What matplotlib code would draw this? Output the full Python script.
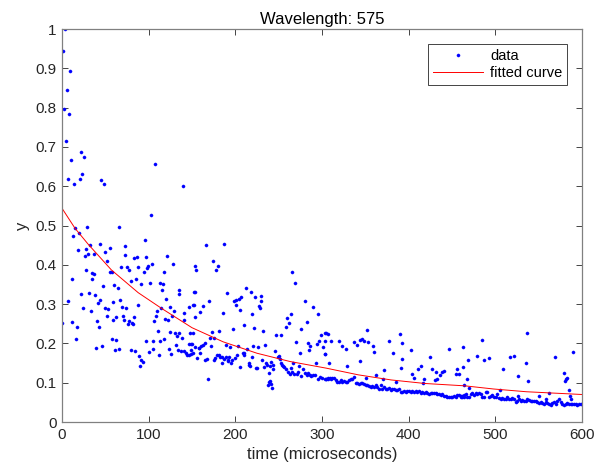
import numpy as np
import matplotlib
matplotlib.use("Agg")
import matplotlib.pyplot as plt

plt.rcParams['font.family'] = ['Liberation Sans', 'DejaVu Sans']

# points, time in microseconds
time_early = [3, 1, 9.2, 5.4, 1.9, 8.1, 4.2, 21.5, 25.4, 10.0, 107.3, 7.3, 23.1, 20.4, 14.2,
              45.0, 48.5, 139.2, 102.3]
y_early = [1.0, 0.944, 0.894, 0.846, 0.797, 0.784, 0.715, 0.686, 0.675, 0.666, 0.656, 0.618,
           0.630, 0.619, 0.606, 0.617, 0.606, 0.601, 0.526]

time_a = [15.0, 29.2, 66.2, 13.1, 19.6, 31.9, 43.5, 55.4, 18.1, 27.3, 30.4, 36.5, 26.2, 49.2,
          72.3, 73.1, 95.4, 51.5, 82.7, 86.5, 97.3, 121.2, 128.1, 68.1, 75.0, 77.7, 87.3, 98.1,
          99.6, 103.5, 28.1, 35.0, 37.3, 55.0, 57.3, 94.2, 117.3, 11.9, 34.2, 79.6, 85.4, 91.5,
          101.5, 113.5, 116.2, 115.4, 135.4, 134.6, 47.3, 60.4, 64.6, 22.3, 31.2, 38.1, 41.9,
          44.2, 6.5, 58.5, 67.3, 88.1, 120.4, 124.2, 152.7, 151.9, 146.2, 24.6, 33.1, 50.0,
          52.7, 52.3, 68.8, 74.2, 62.7, 59.2, 70.4, 71.5, 40.4, 42.7, 77.7, 80.4, 76.5, 81.5,
          83.5, 109.2, 108.5, 106.2, 114.2, 118.8, 121.9, 127.3, 129.2, 140.4, 141.2, 153.1,
          0, 11.2, 16.9, 16.2, 38.8, 46.2, 57.3, 62.3, 61.5, 65.4, 80.0, 84.6, 88.8, 91.5,
          93.1, 90.4, 96.5, 100.8, 104.6, 105.0, 110.4, 113.1, 111.9, 118.1, 123.5, 125.0,
          126.2, 130.0, 131.5, 133.1, 134.6, 138.5, 141.2, 137.3, 142.7, 144.2, 146.9, 148.8,
          149.6, 150.8, 146.2, 133.5]
y_a = [0.493, 0.495, 0.495, 0.473, 0.480, 0.450, 0.453, 0.444, 0.438, 0.439, 0.427, 0.428,
       0.422, 0.433, 0.447, 0.426, 0.464, 0.410, 0.418, 0.420, 0.420, 0.422, 0.402, 0.395,
       0.394, 0.388, 0.394, 0.393, 0.397, 0.403, 0.387, 0.378, 0.377, 0.382, 0.383, 0.382,
       0.382, 0.363, 0.363, 0.360, 0.365, 0.352, 0.355, 0.353, 0.352, 0.337, 0.337, 0.327,
       0.346, 0.348, 0.341, 0.325, 0.328, 0.324, 0.303, 0.311, 0.309, 0.305, 0.310, 0.297,
       0.312, 0.293, 0.331, 0.299, 0.293, 0.291, 0.282, 0.290, 0.288, 0.270, 0.292, 0.289,
       0.267, 0.259, 0.270, 0.259, 0.258, 0.243, 0.256, 0.253, 0.249, 0.249, 0.268, 0.283,
       0.269, 0.258, 0.289, 0.263, 0.260, 0.271, 0.282, 0.278, 0.260, 0.267,
       0.251, 0.254, 0.241, 0.212, 0.189, 0.194, 0.212, 0.208, 0.183, 0.187, 0.184, 0.181,
       0.169, 0.159, 0.153, 0.142, 0.207, 0.178, 0.207, 0.186, 0.232, 0.206, 0.171, 0.210,
       0.186, 0.229, 0.174, 0.226, 0.195, 0.218, 0.226, 0.214, 0.181, 0.181, 0.175, 0.170,
       0.170, 0.182, 0.198, 0.226, 0.199, 0.182]

time_b = [166.2, 187.3, 153.5, 155.0, 173.8, 180.4, 178.1, 265.0, 269.2, 153.1, 190.0, 212.3,
          218.1, 222.3, 229.6, 229.2, 227.3, 228.1, 198.5, 200.4, 204.2, 206.9, 170.0, 151.5,
          162.7, 159.2, 186.2, 200.8, 205.0, 218.8, 280.0, 290.0, 295.4, 260.0, 263.8, 262.0,
          258.1, 276.2, 283.1, 210.0, 196.9, 221.2, 232.3, 247.3, 252.7, 270.4, 283.5, 274.6,
          285.4, 286.5, 293.8, 296.9, 298.8, 303.5, 306.9, 300.8, 303.1, 293.5, 147.7, 149.2,
          173.1, 175.0, 170.4, 181.2, 165.0, 162.7, 160.0, 158.5, 153.5, 151.5, 148.5, 156.2,
          159.2, 157.7, 165.0, 167.0, 172.1, 189.2, 193.8, 203.5, 213.1, 220.0, 226.2, 234.2,
          178.5, 181.2, 182.3, 176.9, 175.8, 184.2, 185.0, 186.5, 189.2, 192.7, 191.9, 191.9,
          195.0, 196.2, 199.2, 201.9, 208.5, 210.4, 210.4, 205.8, 215.4, 216.2, 217.3, 219.6,
          223.8, 225.4, 230.8, 233.1, 235.4, 236.9, 240.0, 241.2, 243.8, 243.1, 246.2, 249.2,
          250.4, 251.5, 253.1, 253.8, 255.0, 256.2, 258.5, 260.8, 263.1, 265.4, 267.3, 270.8,
          272.3, 273.5, 266.2, 263.8, 277.7, 280.4, 275.8, 282.3, 283.8, 286.5, 287.7, 290.0,
          292.3, 295.4, 297.7, 300.0, 303.1, 305.0, 306.9, 308.8, 238.8, 239.2, 240.4, 241.2,
          241.9, 237.7, 168.5]
y_b = [0.450, 0.452, 0.397, 0.388, 0.409, 0.397, 0.387, 0.381, 0.355, 0.332, 0.329, 0.342,
       0.331, 0.319, 0.321, 0.308, 0.295, 0.291, 0.309, 0.310, 0.314, 0.318, 0.309, 0.299,
       0.296, 0.281, 0.277, 0.298, 0.284, 0.274, 0.309, 0.293, 0.275, 0.264, 0.276, 0.252,
       0.241, 0.237, 0.255, 0.247, 0.237, 0.238, 0.232, 0.222, 0.221, 0.204, 0.202, 0.176,
       0.184, 0.194, 0.198, 0.207, 0.221, 0.226, 0.224, 0.192, 0.172, 0.150, 0.226, 0.198,
       0.228, 0.215, 0.215, 0.232, 0.200, 0.196, 0.193, 0.189, 0.192, 0.176, 0.173, 0.163,
       0.176, 0.188, 0.159, 0.161, 0.193, 0.195, 0.192, 0.193, 0.187, 0.193, 0.190, 0.196,
       0.171, 0.170, 0.165, 0.162, 0.159, 0.165, 0.149, 0.161, 0.166, 0.165, 0.159, 0.154,
       0.151, 0.158, 0.164, 0.171, 0.175, 0.176, 0.170, 0.141, 0.149, 0.146, 0.142, 0.166,
       0.137, 0.138, 0.158, 0.141, 0.149, 0.144, 0.142, 0.153, 0.146, 0.134, 0.180, 0.166,
       0.168, 0.161, 0.149, 0.146, 0.143, 0.141, 0.136, 0.128, 0.122, 0.126, 0.122, 0.122,
       0.128, 0.143, 0.151, 0.137, 0.134, 0.124, 0.117, 0.119, 0.124, 0.120, 0.117, 0.120,
       0.119, 0.109, 0.114, 0.112, 0.110, 0.109, 0.109, 0.112, 0.124, 0.102, 0.105, 0.097,
       0.086, 0.095, 0.109]

time_c = [305.0, 303.5, 310.4, 319.2, 323.1, 327.3, 337.3, 340.0, 343.5, 345.8, 348.5, 353.1,
          352.3, 359.2, 360.4, 303.8, 308.1, 328.8, 344.2, 377.3, 390.4, 392.7, 382.3, 391.9,
          391.2, 402.3, 410.4, 414.2, 424.2, 426.9, 431.5, 436.2, 438.5, 441.2, 446.2, 462.3,
          455.8, 454.2, 458.1, 462.3, 371.9, 362.3, 351.2, 370.0, 385.0, 403.8, 406.2, 418.1,
          416.5, 430.4, 432.3,
          304.6, 307.3, 310.0, 311.9, 313.8, 315.8, 317.7, 319.6, 321.5, 323.5, 325.4, 327.3,
          329.2, 331.2, 333.1, 335.0, 336.9, 338.8, 340.8, 342.7, 344.6, 346.5, 348.5, 350.4,
          352.3, 354.2, 356.2, 358.1, 360.0, 361.9, 363.8, 365.8, 367.7, 369.6, 371.5, 373.5,
          375.4, 377.3, 379.2, 381.2, 383.1, 385.0, 386.9, 388.8, 390.8, 392.7, 394.6, 396.5,
          398.5, 400.4, 402.3, 404.2, 406.2, 408.1, 410.0, 411.9, 413.8, 415.8, 417.7, 419.6,
          421.5, 423.5, 425.4, 427.3, 429.2, 431.2, 433.1, 435.0, 436.9, 438.8, 440.8, 442.7,
          444.6, 446.5, 448.5, 450.4, 452.3, 454.2, 456.2, 458.1, 460.0, 461.9, 463.8]
y_c = [0.226, 0.205, 0.205, 0.206, 0.194, 0.187, 0.203, 0.195, 0.209, 0.210, 0.206, 0.203,
       0.233, 0.193, 0.179, 0.172, 0.149, 0.143, 0.155, 0.207, 0.223, 0.201, 0.176, 0.161,
       0.137, 0.182, 0.134, 0.142, 0.166, 0.135, 0.127, 0.119, 0.128, 0.131, 0.186, 0.192,
       0.134, 0.121, 0.121, 0.141, 0.132, 0.120, 0.111, 0.110, 0.103, 0.122, 0.111, 0.109,
       0.098, 0.107, 0.110,
       0.110, 0.113, 0.110, 0.113, 0.111, 0.107, 0.101, 0.103, 0.107, 0.103, 0.105, 0.102,
       0.103, 0.107, 0.109, 0.110, 0.114, 0.098, 0.100, 0.097, 0.098, 0.100, 0.097, 0.094,
       0.095, 0.092, 0.090, 0.092, 0.088, 0.093, 0.088, 0.085, 0.093, 0.085, 0.088, 0.085,
       0.083, 0.086, 0.081, 0.085, 0.083, 0.081, 0.081, 0.083, 0.077, 0.076, 0.080, 0.076,
       0.078, 0.078, 0.076, 0.078, 0.076, 0.080, 0.077, 0.078, 0.075, 0.077, 0.073, 0.076,
       0.075, 0.071, 0.073, 0.073, 0.075, 0.073, 0.071, 0.070, 0.069, 0.070, 0.067, 0.067,
       0.064, 0.064, 0.063, 0.064, 0.066, 0.064, 0.068, 0.069, 0.064, 0.066, 0.068]

time_d = [485.0, 536.2, 590.0, 569.2, 479.2, 486.5, 493.1, 516.9, 521.9, 468.1, 508.8, 535.0,
          578.8, 581.5, 583.1, 580.8, 526.5, 537.3, 466.9, 505.4, 463.8, 469.6, 584.6, 561.5,
          586.2, 550.0, 558.1, 525.8, 587.3,
          460.0, 461.5, 463.8, 465.8, 467.7, 469.6, 471.5, 473.5, 475.4, 477.3, 479.2, 481.2,
          483.1, 485.0, 486.9, 488.8, 490.8, 492.7, 494.6, 496.5, 498.5, 500.4, 502.3, 504.2,
          506.2, 508.1, 510.0, 511.9, 513.8, 515.8, 517.7, 519.6, 521.5, 523.5, 525.4, 527.3,
          529.2, 531.2, 533.1, 535.0, 536.9, 538.8, 540.8, 542.7, 544.6, 546.5, 548.5, 550.4,
          552.3, 554.2, 556.2, 558.1, 560.0, 561.9, 563.8, 565.8, 567.7, 569.6, 571.5, 573.5,
          575.4, 577.3, 579.2, 581.2, 583.1, 585.0, 586.9, 588.8, 590.8, 592.7, 594.6, 596.5,
          598.5]
y_d = [0.209, 0.227, 0.179, 0.165, 0.167, 0.159, 0.164, 0.165, 0.169, 0.157, 0.136, 0.150,
       0.125, 0.109, 0.113, 0.104, 0.117, 0.104, 0.109, 0.082, 0.093, 0.087, 0.081, 0.073,
       0.065, 0.067, 0.059, 0.067, 0.058,
       0.066, 0.064, 0.063, 0.070, 0.064, 0.063, 0.070, 0.073, 0.068, 0.075, 0.070, 0.075,
       0.070, 0.064, 0.063, 0.076, 0.076, 0.063, 0.066, 0.069, 0.064, 0.063, 0.071, 0.060,
       0.059, 0.060, 0.058, 0.059, 0.063, 0.058, 0.059, 0.060, 0.058, 0.051, 0.054, 0.058,
       0.054, 0.056, 0.054, 0.053, 0.058, 0.056, 0.054, 0.053, 0.053, 0.054, 0.051, 0.049,
       0.051, 0.049, 0.047, 0.051, 0.049, 0.046, 0.044, 0.049, 0.052, 0.047, 0.054, 0.059,
       0.051, 0.047, 0.044, 0.047, 0.049, 0.046, 0.047, 0.046, 0.047, 0.046, 0.044, 0.045,
       0.047]

# fitted curve
fit_time = [0, 15, 30, 57, 88, 115, 150, 186, 225, 263, 305, 342, 380, 419, 465, 498, 536, 600]
fit_value = [0.544, 0.493, 0.453, 0.387, 0.329, 0.289, 0.240, 0.204, 0.175, 0.154, 0.137,
             0.120, 0.107, 0.098, 0.092, 0.084, 0.077, 0.070]

x_ticks = [0, 100, 200, 300, 400, 500, 600]
y_ticks = [0, 0.1, 0.2, 0.3, 0.4, 0.5, 0.6, 0.7, 0.8, 0.9, 1.0]
y_tick_labels = ['0', '0.1', '0.2', '0.3', '0.4', '0.5', '0.6', '0.7', '0.8', '0.9', '1']

time_us = np.array(time_early + time_a + time_b + time_c + time_d)
signal = np.array(y_early + y_a + y_b + y_c + y_d)

fig = plt.figure(figsize=(6.06, 4.74), dpi=100)
ax = fig.add_axes([0.1023, 0.1097, 0.858, 0.829])

ax.plot(time_us, signal, '.', color='b', markersize=4.5, markeredgewidth=0.3, label='data')
ax.plot(fit_time, fit_value, '-', color='r', linewidth=0.7, label='fitted curve')

ax.set_xlim(0, 600)
ax.set_ylim(0, 1)
ax.set_xticks(x_ticks)
ax.set_yticks(y_ticks)
ax.set_yticklabels(y_tick_labels)

dark = '0.15'
for s in ax.spines.values():
    s.set_color('0.5')
    s.set_linewidth(0.9)
ax.tick_params(direction='in', top=True, right=True, length=4, width=0.6,
               colors=dark, labelsize=11, pad=4)

ax.set_xlabel('time (microseconds)', fontsize=12, color=dark)
ax.set_ylabel('y', fontsize=12, color=dark)
ax.set_title('Wavelength: 575', fontsize=12, color='k', pad=4)

leg = ax.legend(loc='upper right', fontsize=10.5, fancybox=False, edgecolor=dark,
                framealpha=1, borderaxespad=1.0, handlelength=3.4, handletextpad=0.5,
                borderpad=0.35, labelspacing=0.25)
leg.get_frame().set_linewidth(0.6)

fig.savefig('out.png', dpi=100)
